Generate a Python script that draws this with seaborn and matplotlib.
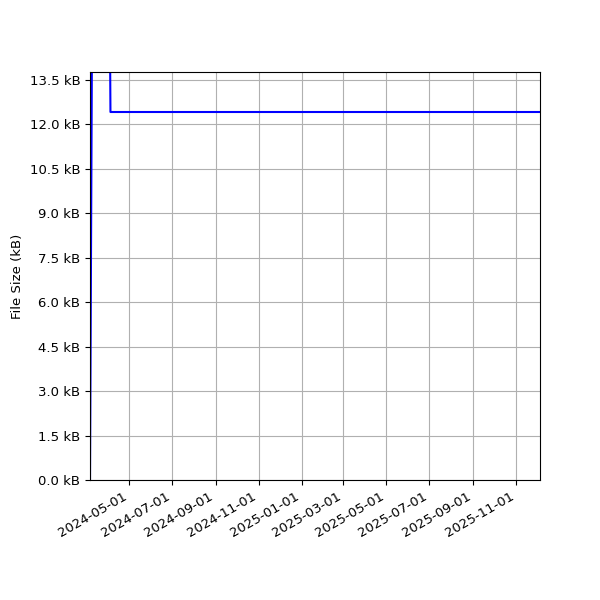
import numpy as np
import pandas as pd
import matplotlib
matplotlib.use("Agg")
import matplotlib.pyplot as plt
import matplotlib.dates as mdates
from matplotlib.ticker import FuncFormatter, MultipleLocator
import seaborn as sns

# File size history (kB)
dates = ["2024-03-07", "2024-03-10", "2024-04-04", "2024-04-05", "2025-12-05"]
sizes_kb = [0.0, 16.0, 16.0, 12.42, 12.42]

df = pd.DataFrame({"date": pd.to_datetime(dates), "size": sizes_kb})

fig, ax = plt.subplots(figsize=(6, 6), dpi=100)
sns.lineplot(data=df, x="date", y="size", color="blue", linewidth=1.5,
             estimator=None, ax=ax)

ax.set_xlim(df["date"].min(), df["date"].max())
ax.set_ylim(0, 13.77)
ax.yaxis.set_major_locator(MultipleLocator(1.5))
ax.yaxis.set_major_formatter(FuncFormatter(lambda v, p: f"{v:.1f} kB"))
ax.xaxis.set_major_locator(mdates.MonthLocator(bymonth=[1, 3, 5, 7, 9, 11]))
ax.xaxis.set_major_formatter(mdates.DateFormatter("%Y-%m-%d"))
ax.tick_params(labelsize=9.5)
ax.grid(True, color="#b0b0b0")
ax.set_axisbelow(True)
ax.set_xlabel("")
ax.set_ylabel("File Size (kB)", fontsize=9.5)
fig.autofmt_xdate()
fig.subplots_adjust(left=0.15, right=0.9, top=0.88, bottom=0.2)
fig.savefig("out.png", dpi=100)
